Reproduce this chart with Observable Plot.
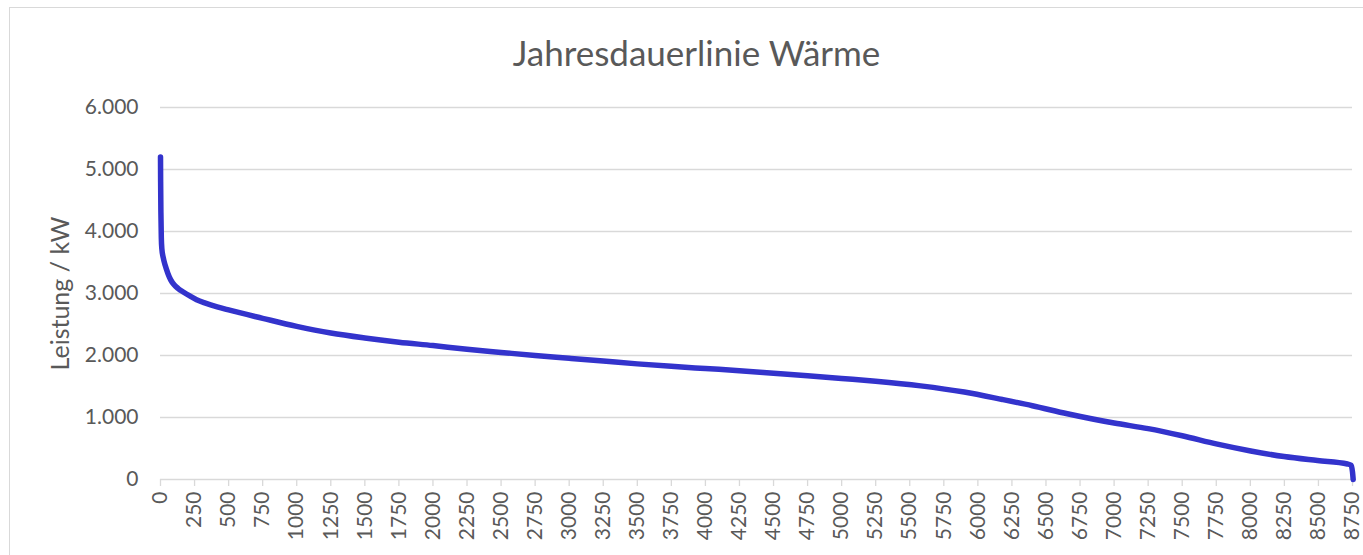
<!DOCTYPE html>
<html>
<head>
<meta charset="utf-8">
<script src="https://cdn.jsdelivr.net/npm/d3@7"></script>
<script src="https://cdn.jsdelivr.net/npm/@observablehq/plot@0.6"></script>
<style>
  html, body { margin: 0; padding: 0; background: #fff; }
  #wrap { position: relative; width: 1363px; height: 555px; overflow: hidden; }
  #frame { position: absolute; left: 9px; top: 7px; width: 1400px; height: 600px; border: 1px solid #d9d9d9; box-sizing: border-box; }
  #chart { position: absolute; left: 0; top: 0; }
</style>
</head>
<body>
<div id="wrap"><div id="frame"></div><div id="chart"></div></div>
<script>
const title = "Jahresdauerlinie Wärme";
const yLabel = "Leistung / kW";
const hours = [0, 1, 3, 6, 10, 20, 35, 55, 75, 100, 130, 170, 215, 265, 330, 416, 500, 750, 1000, 1250, 1500, 1750, 2000, 2250, 2500, 2750, 3000, 3250, 3500, 3750, 4000, 4250, 4500, 4750, 5000, 5250, 5580, 5900, 6180, 6400, 6657, 7000, 7250, 7500, 7758, 8003, 8248, 8493, 8713, 8740, 8750, 8755];
const leistung = [5200, 4800, 4300, 3900, 3720, 3580, 3450, 3320, 3220, 3140, 3080, 3020, 2960, 2900, 2845, 2785, 2735, 2600, 2470, 2362, 2282, 2215, 2160, 2100, 2050, 2000, 1955, 1910, 1865, 1825, 1790, 1755, 1715, 1675, 1630, 1585, 1510, 1410, 1290, 1190, 1060, 910, 820, 705, 570, 460, 370, 305, 250, 230, 120, 0];
const xTicks = d3.range(0, 8751, 250);
const yTicks = [0, 1000, 2000, 3000, 4000, 5000, 6000];

const data = hours.map((h, i) => ({h, v: leistung[i]}));
const de = d3.formatLocale({decimal: ",", thousands: ".", grouping: [3], currency: ["", " €"]});
const fmtY = de.format(",");
const font = "Lato, 'Open Sans', sans-serif";

const chart = Plot.plot({
  width: 1363,
  height: 555,
  marginLeft: 160,
  marginRight: 11,
  marginTop: 107,
  marginBottom: 76,
  style: {fontFamily: font, color: "#595959", background: "transparent", overflow: "visible"},
  x: {domain: [0, 8750]},
  y: {domain: [0, 6000]},
  marks: [
    Plot.gridY(yTicks, {stroke: "#d9d9d9", strokeOpacity: 1, strokeWidth: 1.3}),
    Plot.axisY(yTicks, {tickFormat: fmtY, tickSize: 0, tickPadding: 22, fontSize: 21, fill: "#595959", label: null}),
    Plot.axisX(xTicks, {tickFormat: d => String(d), tickRotate: -90, tickSize: 7, tickPadding: 5, fontSize: 21, fill: "#595959", stroke: "#d9d9d9", strokeWidth: 1.3, strokeOpacity: 1, label: null}),
    Plot.line(data, {x: "h", y: "v", stroke: "#3333cc", strokeWidth: 5.5, curve: "monotone-x", strokeLinejoin: "round", strokeLinecap: "round"}),
    Plot.text([title], {frameAnchor: "top", dx: -60, dy: -66, fontSize: 35, fill: "#595959", fontFamily: font}),
    Plot.text([yLabel], {frameAnchor: "left", dx: -100, rotate: -90, textAnchor: "middle", fontSize: 25, fill: "#595959", fontFamily: font})
  ]
});
document.getElementById("chart").appendChild(chart);
</script>
</body>
</html>
